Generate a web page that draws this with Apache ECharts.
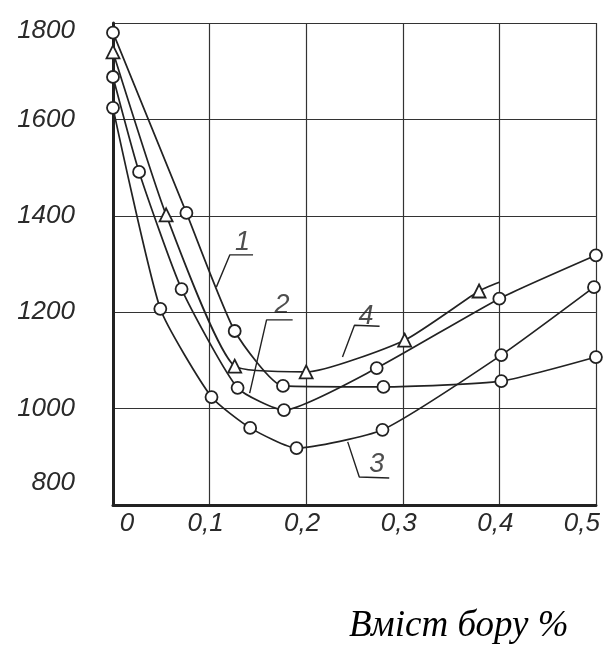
<!DOCTYPE html>
<html>
<head>
<meta charset="utf-8">
<script src="https://cdn.jsdelivr.net/npm/echarts@6/dist/echarts.min.js"></script>
<style>
html,body{margin:0;padding:0;background:#fff;}
#chart{width:603px;height:646px;}
</style>
</head>
<body>
<div id="chart"></div>
<script>
// ---- data ----
const xTicks = [0, 0.1, 0.2, 0.3, 0.4, 0.5];
const xTickLabels = ['0', '0,1', '0,2', '0,3', '0,4', '0,5'];
const yTicks = [800, 1000, 1200, 1400, 1600, 1800];

// curve 1 (circles)
const curve1 = [[0, 1780], [0.076, 1406], [0.126, 1161], [0.176, 1047], [0.28, 1045], [0.402, 1057], [0.5, 1107]];
// curve 2 (circles)
const curve2 = [[0, 1688], [0.027, 1491], [0.071, 1248], [0.129, 1043], [0.177, 997], [0.273, 1084], [0.4, 1228], [0.5, 1318]];
// curve 3 (circles)
const curve3 = [[0, 1624], [0.049, 1207], [0.102, 1024], [0.142, 960], [0.19, 918], [0.279, 956], [0.402, 1111], [0.498, 1252]];
// curve 4 (triangles); the line runs a little past the last triangle
const curve4 = [[0, 1740], [0.055, 1402], [0.126, 1088], [0.2, 1076], [0.302, 1142], [0.379, 1244]];
const curve4End = [0.4, 1262];

// curve number labels with their leader lines (data coordinates)
const labelNames = ['1', '2', '3', '4'];
const labelPos = [[0.134, 1344], [0.175, 1213], [0.273, 885], [0.262, 1192]];
const leader1 = [[0.107, 1252], [0.121, 1319], [0.145, 1319]];
const leader2 = [[0.1415, 1032], [0.159, 1184], [0.186, 1184]];
const leader3 = [[0.243, 931], [0.255, 858], [0.286, 856]];
const leader4 = [[0.2376, 1107], [0.25, 1173], [0.276, 1171]];

const axisTitle = 'Вміст бору %';

// ---- chart ----
const INK = '#222';
const chart = echarts.init(document.getElementById('chart'));

function curveSeries(data, symbol, size, extra) {
  const d = data.map(p => ({ value: p }));
  if (extra) d.push({ value: extra, symbol: 'none' });
  return {
    type: 'line', data: d, smooth: 0.18, clip: false,
    symbol: symbol, symbolSize: size, showAllSymbol: true,
    lineStyle: { color: INK, width: 1.7 },
    itemStyle: { color: '#fff', borderColor: INK, borderWidth: 1.8 },
    z: 5
  };
}
function leaderSeries(data) {
  return {
    type: 'line', data: data, symbol: 'none', smooth: false, clip: false,
    lineStyle: { color: INK, width: 1.4 }, z: 4, silent: true
  };
}

const handFont = { fontFamily: 'Liberation Sans', fontStyle: 'italic', color: '#2a2a2a' };

chart.setOption({
  backgroundColor: '#fff',
  animation: false,
  title: {
    text: axisTitle, left: 344, top: 603,
    textStyle: { fontFamily: 'Liberation Serif', fontStyle: 'italic', fontWeight: 'normal', fontSize: 37, color: '#000' }
  },
  grid: { left: 113, top: 23, right: 6, bottom: 141 },
  xAxis: {
    type: 'value', min: 0, max: 0.5, interval: 0.1,
    axisLine: { show: true, lineStyle: { color: INK, width: 3 } },
    axisTick: { show: false },
    splitLine: { show: true, lineStyle: { color: '#333', width: 1.2 } },
    axisLabel: {
      margin: 6, fontSize: 26, ...handFont,
      formatter: function (v) {
        const i = xTicks.findIndex(t => Math.abs(t - v) < 1e-9);
        const s = i >= 0 ? xTickLabels[i] : '';
        if (i === 0) return '{r|' + s + '}';
        if (i === xTicks.length - 1) return '{l|' + s + '}';
        return '{n|' + s + '}';
      },
      rich: {
        n: { fontSize: 26, ...handFont, padding: [0, 8, 0, 0] },
        r: { fontSize: 26, ...handFont, padding: [0, 0, 0, 28] },
        l: { fontSize: 26, ...handFont, padding: [0, 28, 0, 0] }
      }
    }
  },
  yAxis: {
    type: 'value', min: 800, max: 1800, interval: 200,
    axisLine: { show: true, lineStyle: { color: INK, width: 3 } },
    axisTick: { show: false },
    splitLine: { show: true, lineStyle: { color: '#333', width: 1.2 } },
    axisLabel: {
      margin: 38, fontSize: 26, ...handFont,
      formatter: function (v) {
        if (yTicks.indexOf(v) < 0) return '';
        if (v === 800) return '{lo|' + v + '}';
        if (v === 1800) return '{hi|' + v + '}';
        return '{n|' + v + '}';
      },
      rich: {
        n: { fontSize: 26, ...handFont },
        lo: { fontSize: 26, ...handFont, padding: [0, 0, 44, 0] },
        hi: { fontSize: 26, ...handFont, padding: [16, 0, 0, 0] }
      }
    }
  },
  series: [
    curveSeries(curve1, 'circle', 12),
    curveSeries(curve2, 'circle', 12),
    curveSeries(curve3, 'circle', 12),
    curveSeries(curve4, 'triangle', 13, curve4End),
    leaderSeries(leader1),
    leaderSeries(leader2),
    leaderSeries(leader3),
    leaderSeries(leader4),
    {
      type: 'scatter', symbolSize: 1, clip: false, z: 6, silent: true,
      itemStyle: { color: 'rgba(0,0,0,0)' },
      data: labelNames.map((n, i) => ({ name: n, value: labelPos[i] })),
      label: { show: true, position: 'inside', formatter: '{b}', fontSize: 27, ...handFont, color: '#222' }
    }
  ]
});
</script>
</body>
</html>
